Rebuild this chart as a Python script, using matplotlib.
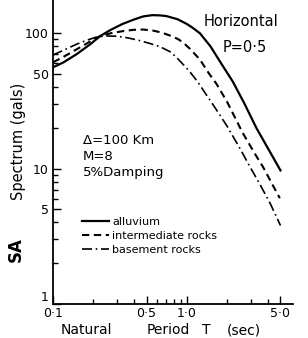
import matplotlib
matplotlib.use("Agg")
import matplotlib.pyplot as plt
from matplotlib.ticker import FixedLocator, NullFormatter

plt.rcParams['font.family'] = ['DejaVu Sans']

# Natural period T (sec) and SA spectrum (gals)
T_alluvium = [0.1, 0.12, 0.15, 0.19, 0.224, 0.27, 0.33, 0.4, 0.47, 0.55, 0.63, 0.7,
              0.85, 1.0, 1.1, 1.25, 1.5, 1.8, 2.2, 2.7, 3.3, 4.0, 5.0]
SA_alluvium = [56, 61, 70, 83, 95, 106, 117, 126, 133, 136, 135.5, 134,
               127, 117, 110, 100, 80, 60, 44, 30, 20, 14.3, 9.7]

T_intermediate = [0.1, 0.12, 0.15, 0.19, 0.224, 0.27, 0.33, 0.4, 0.47, 0.55, 0.65, 0.75,
                  0.85, 0.93, 1.05, 1.25, 1.45, 1.67, 2.0, 2.6, 3.2, 3.7, 4.3, 4.94]
SA_intermediate = [61, 67, 76, 87, 95, 100, 103.5, 106, 106.5, 105, 101, 96,
                   91, 86, 77, 64, 51, 42, 31, 18.5, 13, 10.3, 7.8, 6.05]

T_basement = [0.1, 0.12, 0.15, 0.18, 0.21, 0.25, 0.3, 0.36, 0.43, 0.53, 0.63, 0.75,
              0.84, 0.95, 1.05, 1.2, 1.4, 1.67, 2.0, 2.5, 2.96, 3.5, 4.2, 5.0]
SA_basement = [69, 75, 83, 89, 93.5, 95.5, 95, 92.5, 89, 84, 79.5, 73,
               66, 58, 52, 44, 35, 27, 20.5, 14, 10.3, 7.7, 5.5, 3.8]

labels = ["alluvium", "intermediate rocks", "basement rocks"]
x_ticks = [0.1, 0.5, 1.0, 5.0]
x_ticklabels = ["0·1", "0·5", "1·0", "5·0"]
y_ticks = [1, 5, 10, 50, 100]
y_ticklabels = ["1", "5", "10", "50", "100"]

W, H = 308, 338
fig = plt.figure(figsize=(W / 100, H / 100), dpi=100)
ax = fig.add_axes([53 / W, 1 - 304 / H, 240 / W, 304 / H])

ax.plot(T_alluvium, SA_alluvium, color='black', lw=1.6, ls='-', label=labels[0])
ax.plot(T_intermediate, SA_intermediate, color='black', lw=1.5, ls=(0, (3.5, 2.2)), label=labels[1])
ax.plot(T_basement, SA_basement, color='black', lw=1.2, ls=(0, (6, 2.2, 1, 2.2)), label=labels[2])

ax.set_xscale('log')
ax.set_yscale('log')
ax.set_xlim(0.1, 6.2)
ax.set_ylim(1, 176)

ax.xaxis.set_major_locator(FixedLocator(x_ticks))
ax.set_xticklabels(x_ticklabels)
ax.xaxis.set_minor_locator(FixedLocator([0.2, 0.3, 0.4, 0.6, 0.7, 0.8, 0.9, 2, 3, 4]))
ax.xaxis.set_minor_formatter(NullFormatter())
ax.yaxis.set_major_locator(FixedLocator(y_ticks))
ax.set_yticklabels(y_ticklabels)
ax.yaxis.set_minor_locator(FixedLocator([2, 3, 4, 6, 7, 8, 9, 20, 30, 40, 60, 70, 80, 90]))
ax.yaxis.set_minor_formatter(NullFormatter())

ax.tick_params(which='both', direction='in', labelsize=9, width=1.0, colors='black')
ax.tick_params(which='major', length=6)
ax.tick_params(which='minor', length=3.5)
ax.tick_params(axis='x', pad=2.5)
ax.tick_params(axis='y', pad=3)
# the "1" label sits just above the corner, as in the reference
ax.get_yticklabels()[0].set_verticalalignment('bottom')
for s in ['top', 'right']:
    ax.spines[s].set_visible(False)
for s in ['left', 'bottom']:
    ax.spines[s].set_linewidth(1.3)

def ft(px, py, s, **kw):
    fig.text(px / W, 1 - py / H, s, **kw)

ft(241, 22, "Horizontal", fontsize=10.5, ha='center', va='center')
ft(245, 47, "P=0·5", fontsize=10.5, ha='center', va='center')
ft(83, 141, "Δ=100 Km", fontsize=9.5, ha='left', va='center')
ft(83, 157, "M=8", fontsize=9.5, ha='left', va='center')
ft(83, 172, "5%Damping", fontsize=9.5, ha='left', va='center')

ft(16, 250, "SA", fontsize=12, ha='center', va='center', rotation=90, fontweight='bold')
ft(19, 141, "Spectrum (gals)", fontsize=10.5, ha='center', va='center', rotation=90)

xl = dict(fontsize=10, ha='center', va='center')
ft(86, 330, "Natural", **xl)
ft(168, 330, "Period", **xl)
ft(206, 330, "T", **xl)
ft(244, 330, "(sec)", **xl)

leg = ax.legend(loc='upper left', bbox_to_anchor=(82 / W, 1 - 217 / H),
                bbox_transform=fig.transFigure, frameon=False, fontsize=8,
                handlelength=2.4, handletextpad=0.3, labelspacing=0.35,
                borderpad=0, borderaxespad=0)

fig.savefig("out.png", dpi=100)
